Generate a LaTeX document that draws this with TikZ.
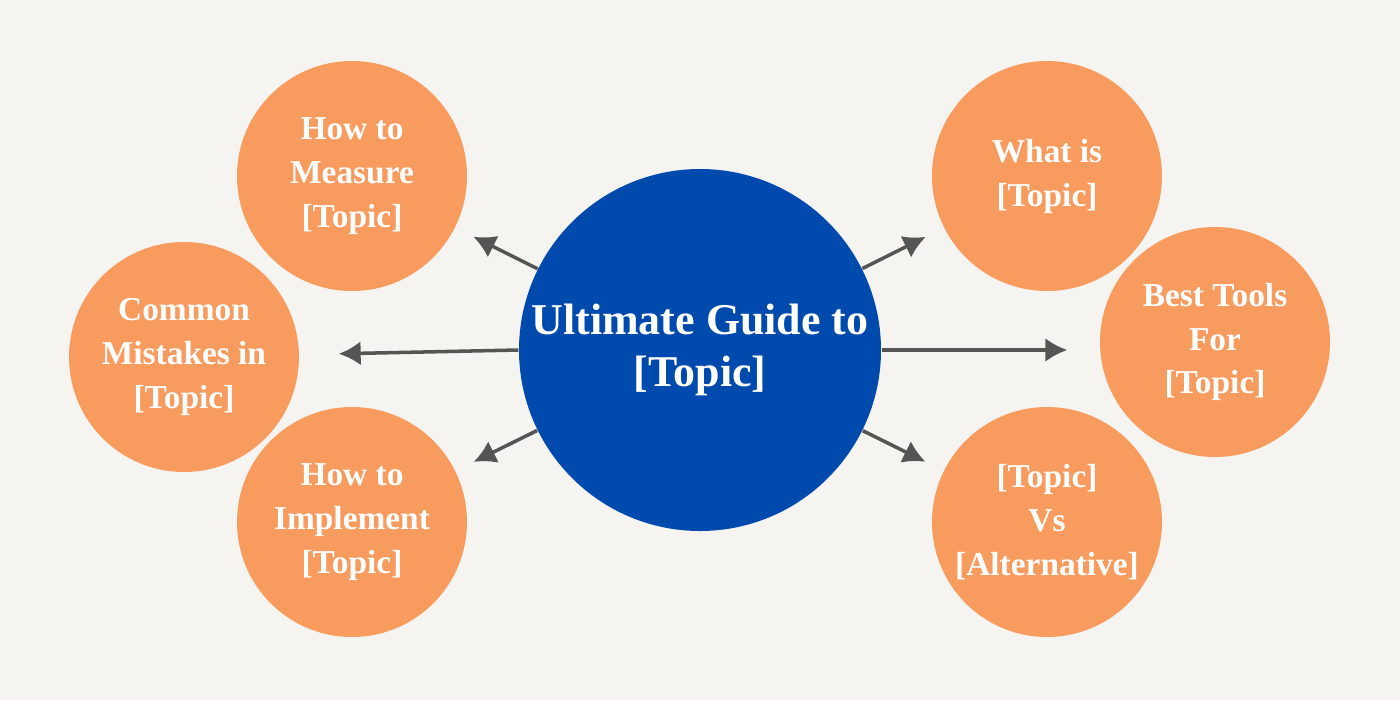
\documentclass[tikz,border=0pt]{standalone}
\usepackage{fontspec}
\setmainfont{Liberation Serif}
\usetikzlibrary{arrows.meta, positioning}
\definecolor{bgcol}{HTML}{F5F4F0}
\definecolor{topicorange}{HTML}{F89B5E}
\definecolor{guideblue}{HTML}{004AAD}
\definecolor{arrowgray}{HTML}{555555}
\begin{document}
\begin{tikzpicture}[
    hub/.style = {circle, fill=guideblue, minimum size=3.62cm, inner sep=0pt,
                text=white, align=center, font=\bfseries\fontsize{12.5}{15}\selectfont},
    spoke/.style = {circle, fill=topicorange, minimum size=2.3cm, inner sep=0pt,
                text=white, align=center, font=\bfseries\fontsize{9.5}{12.5}\selectfont},
    link/.style = {draw=arrowgray, line width=1pt, -{Latex[length=2.2mm,width=2.4mm]}}
                    ]
\fill[bgcol] (0,0) rectangle (14,7);
\useasboundingbox (0,0) rectangle (14,7);

\node (guide) [hub] at (7,3.5) {Ultimate Guide to\\ {[Topic]}};

\node (measure) [spoke] at (3.52,5.24) {How to\\ Measure\\ {[Topic]}};
\node (mistakes) [spoke] at (1.84,3.43) {Common\\ Mistakes in\\ {[Topic]}};
\node (implement) [spoke] at (3.52,1.78) {How to\\ Implement\\ {[Topic]}};
\node (whatis) [spoke] at (10.47,5.24) {What is\\ {[Topic]}};
\node (tools) [spoke] at (12.15,3.58) {Best Tools\\ For\\ {[Topic]}};
\node (versus) [spoke] at (10.47,1.78) {{[Topic]}\\ Vs\\ {[Alternative]}};

\draw[link, shorten >=0.2cm] (guide) -- (measure);
\draw[link, shorten >=0.39cm] (guide.west) -- (mistakes);
\draw[link, shorten >=0.2cm] (guide) -- (implement);
\draw[link, shorten >=0.2cm] (guide) -- (whatis);
\draw[link, shorten >=0.32cm] (guide.east) -- (tools.west |- guide.east);
\draw[link, shorten >=0.2cm] (guide) -- (versus);
\end{tikzpicture}
\end{document}
